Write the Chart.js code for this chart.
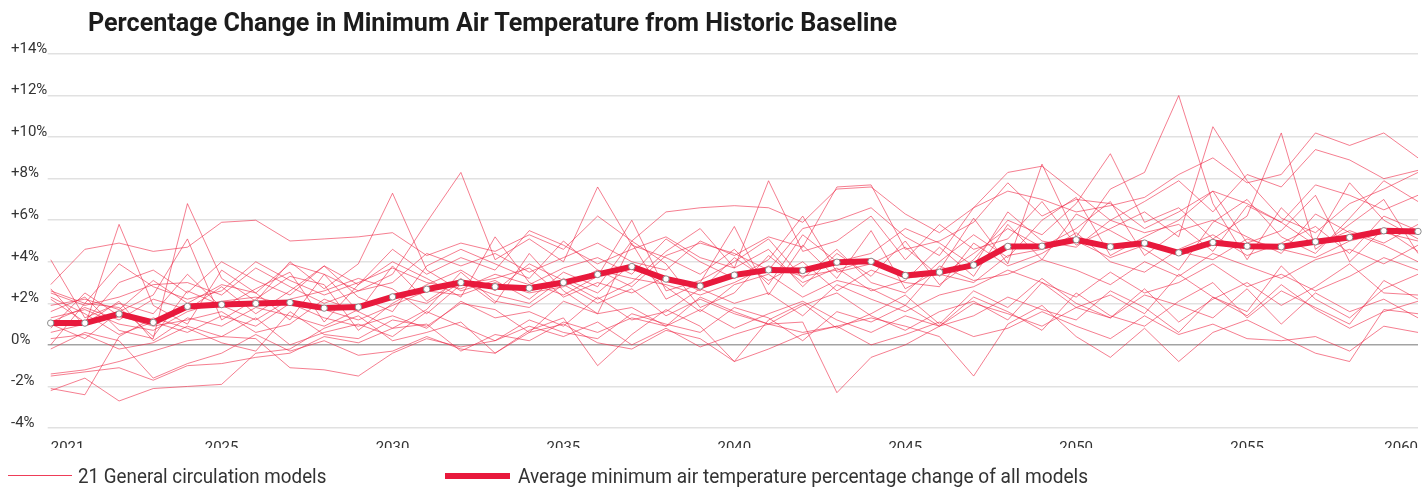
<!DOCTYPE html>
<html><head><meta charset="utf-8">
<script src="https://cdn.jsdelivr.net/npm/chart.js@4.4.1/dist/chart.umd.min.js"></script>
<style>
html,body{margin:0;padding:0;background:#fff;width:1423px;height:488px;overflow:hidden;}
#wrap{position:relative;width:1423px;height:488px;}
#c{position:absolute;left:0;top:0;}
.t{position:absolute;white-space:nowrap;transform-origin:0 50%;font-family:"Liberation Sans Narrow","Roboto",sans-serif;color:#222;}
#title{left:88px;top:3px;font-size:26px;font-weight:bold;line-height:38px;color:#1c1c1c;}
.lg{font-size:20px;line-height:24px;top:464px;color:#333;}
.sw{position:absolute;}
</style></head>
<body><div id="wrap">
<canvas id="c" width="1423" height="488"></canvas>
<div id="title" class="t" data-w="809">Percentage Change in Minimum Air Temperature from Historic Baseline</div>
<div class="sw" style="left:8px;top:475px;width:64px;height:1px;background:rgba(236,40,70,0.9);"></div>
<div class="t lg" style="left:78px" data-w="248">21 General circulation models</div>
<div class="sw" style="left:445px;top:473px;width:65px;height:6px;background:#e8193c;"></div>
<div class="t lg" style="left:518px" data-w="570">Average minimum air temperature percentage change of all models</div>
</div>
<script>
// x categories (one per model year step)
const categories = ['2020','2021','2022','2023','2024','2025','2026','2027','2028','2029','2030','2031','2032','2033','2034','2035','2036','2037','2038','2039','2040','2041','2042','2043','2044','2045','2046','2047','2048','2049','2050','2051','2052','2053','2054','2055','2056','2057','2058','2059','2060'];
const tickIndex = [0,5,10,15,20,25,30,35,40];
const tickText = ['2021','2025','2030','2035','2040','2045','2050','2055','2060'];
const yTicks = [-4,-2,0,2,4,6,8,10,12,14];

const average = [1.05,1.05,1.49,1.08,1.85,1.94,1.99,2.04,1.77,1.82,2.31,2.68,3.0,2.80,2.73,3.0,3.39,3.77,3.17,2.83,3.36,3.61,3.58,3.98,4.02,3.34,3.50,3.84,4.74,4.75,5.06,4.72,4.90,4.43,4.93,4.75,4.72,4.96,5.17,5.49,5.46];

const model01 = [2.7,0.9,5.8,1.9,1.0,3.6,2.5,1.2,3.4,1.6,3.8,2.1,3.2,2.0,4.4,2.6,1.5,4.9,2.2,3.0,5.7,2.4,4.8,3.2,5.5,2.7,3.6,6.1,3.9,8.7,5.2,7.5,8.3,12.0,6.8,4.1,6.6,5.0,7.8,6.0,5.1];
const model02 = [2.9,4.6,4.9,4.5,4.7,5.9,6.0,5.0,5.1,5.2,5.4,4.3,4.9,4.5,5.3,4.6,6.2,5.0,6.4,6.6,6.7,6.6,5.9,7.5,7.6,6.3,5.4,6.6,7.4,7.0,6.4,6.7,7.1,8.2,9.0,7.8,8.2,10.2,9.6,10.2,9.0];
const model03 = [1.6,2.3,0.7,0.3,6.8,3.2,2.1,4.0,2.7,3.9,7.3,3.6,2.6,3.1,2.2,3.5,2.8,5.0,3.9,1.8,2.5,4.3,3.0,3.7,2.6,3.1,4.7,3.3,5.8,4.1,6.3,5.5,4.6,3.6,5.9,7.0,5.2,4.4,6.1,7.9,6.9];
const model04 = [2.5,1.9,2.3,2.9,3.0,2.4,3.7,2.8,2.0,2.6,3.4,5.9,8.3,4.1,5.1,4.0,7.6,4.8,4.2,3.4,4.6,2.9,5.3,4.0,4.4,5.6,4.9,3.8,6.4,5.0,4.7,6.0,5.4,5.8,4.5,6.7,5.9,4.8,5.5,4.9,5.8];
const model05 = [-2.2,-1.6,-2.7,-2.1,-2.0,-1.9,-0.4,-0.2,0.8,1.4,0.2,0.6,1.1,-0.4,0.7,1.3,-1.0,0.5,1.7,0.9,-0.8,1.2,2.0,0.8,1.5,2.4,1.0,2.6,1.8,3.2,2.0,1.3,2.7,1.1,2.2,3.0,1.9,2.8,3.9,2.5,2.4];
const model06 = [-2.1,-2.4,0.4,1.3,0.8,0.1,-0.3,1.6,0.5,0.3,1.2,0.9,2.0,1.7,0.6,2.1,1.5,1.8,0.9,2.3,1.6,1.0,1.9,2.5,1.4,0.7,1.6,2.1,1.2,3.0,1.8,2.4,1.5,3.4,2.3,1.6,3.8,2.2,1.3,2.7,3.4];
const model07 = [-1.4,-1.2,-0.8,-0.3,0.2,0.4,0.3,-1.1,-1.2,-1.5,-0.4,0.3,-0.1,0.2,0.9,0.4,1.1,0.0,0.8,-0.1,0.5,1.0,0.6,0.9,1.3,0.9,0.4,-1.5,1.0,1.9,0.4,-0.6,0.8,-0.8,0.6,1.2,0.4,-0.4,-0.8,1.7,1.5];
const model08 = [4.1,1.3,2.0,1.5,3.4,1.8,2.7,3.5,1.1,2.9,4.0,3.2,2.3,5.2,3.0,2.4,3.3,6.0,2.6,3.1,4.0,5.1,3.2,4.6,3.0,2.5,4.0,5.3,4.2,6.0,7.1,4.3,5.2,6.0,7.4,4.9,5.5,7.2,4.0,5.6,4.5];
const model09 = [1.3,1.7,1.0,0.7,1.6,2.1,2.3,1.9,1.7,1.2,1.9,2.6,2.4,3.0,2.5,2.8,3.6,3.2,2.9,2.4,3.0,3.8,3.3,3.6,4.1,3.2,3.4,3.0,4.3,4.6,5.0,4.2,4.8,4.5,4.1,5.1,4.6,4.2,5.0,5.4,5.0];
const model10 = [0.8,2.5,1.4,0.9,1.2,1.6,0.6,1.0,2.2,1.6,0.8,1.7,3.5,2.1,1.8,2.9,2.0,2.7,1.4,2.2,1.5,1.0,1.1,-2.3,-0.6,0.0,0.9,2.3,1.6,0.7,2.5,1.4,0.9,2.1,3.0,1.3,2.6,1.8,1.0,3.1,2.2];
const model11 = [2.2,1.1,3.0,3.6,2.5,4.0,3.1,2.4,3.8,2.9,4.6,3.4,4.2,3.6,5.5,4.8,3.9,4.6,5.2,4.2,3.7,7.9,4.5,5.0,6.2,4.1,5.8,4.6,5.1,6.9,4.8,5.6,6.4,5.2,10.5,7.9,6.1,5.4,6.8,7.5,8.3];
const model12 = [1.9,2.2,1.7,3.1,2.0,2.9,2.5,3.9,3.4,2.6,3.0,4.4,3.8,4.4,3.5,4.2,4.9,4.0,3.6,5.0,4.3,5.2,4.7,7.6,7.7,4.6,5.0,5.9,7.8,6.2,7.0,6.8,5.6,6.4,7.4,6.8,5.9,7.7,7.2,6.5,7.2];
const model13 = [0.3,0.5,-0.2,0.1,0.9,0.4,1.3,0.0,0.6,1.0,0.4,1.6,0.9,0.2,1.2,0.6,0.3,1.5,1.0,0.6,1.8,1.3,0.2,1.6,1.1,1.9,0.9,1.4,2.3,1.7,1.2,2.6,1.8,0.6,2.3,1.4,2.9,1.7,0.8,1.6,2.1];
const model14 = [-0.2,0.6,0.2,-1.6,-0.9,-0.4,0.5,-0.3,0.2,-0.5,-0.3,0.4,-0.2,-0.4,0.6,1.0,0.1,-0.2,0.7,0.3,-0.8,-0.2,0.5,0.9,0.0,0.5,1.1,0.4,0.8,1.6,0.9,0.3,1.4,0.5,1.0,0.3,0.2,0.4,-0.3,0.9,0.6];
const model15 = [2.6,2.0,3.9,2.8,2.2,2.6,4.0,3.1,2.4,3.0,3.7,3.0,2.7,3.4,2.9,3.7,4.2,3.4,5.1,4.0,3.2,4.1,6.2,3.5,3.9,4.7,3.3,4.4,5.6,4.7,5.6,6.9,4.3,5.5,6.0,5.2,4.4,6.3,5.4,4.8,4.0];
const model16 = [0.6,1.0,2.1,0.2,1.3,0.9,1.8,1.4,0.9,1.7,2.4,2.0,3.0,2.4,2.0,3.2,2.5,3.9,2.8,1.6,2.9,3.4,2.3,3.1,2.7,1.9,3.8,3.1,3.4,4.1,3.6,2.9,4.0,3.3,4.4,3.8,3.2,4.1,4.6,3.9,4.8];
const model17 = [1.0,0.3,1.6,2.4,5.1,1.2,2.2,3.3,2.9,0.7,2.0,2.9,3.6,2.6,3.9,3.1,2.2,3.0,4.5,5.6,3.7,4.6,2.8,4.4,3.3,5.0,2.9,4.1,6.0,5.3,6.8,9.2,5.9,6.6,5.1,6.2,10.2,4.6,5.8,7.0,4.4];
const model18 = [-1.5,-1.3,-1.1,-1.7,-1.0,-0.9,-0.6,-0.4,0.4,0.1,0.8,1.0,-0.3,0.5,0.2,1.1,0.6,1.3,0.9,1.7,0.8,1.5,2.1,1.2,0.6,1.4,0.9,2.0,1.5,0.9,1.8,1.3,2.4,1.9,1.3,2.7,1.0,2.5,1.6,2.2,1.3];
const model19 = [1.1,1.8,1.2,2.2,1.7,2.8,1.5,2.6,3.8,2.3,1.6,3.8,4.6,3.9,3.2,5.0,3.6,2.8,4.3,4.9,4.4,3.6,5.6,6.0,6.6,5.2,4.3,6.6,8.3,8.6,7.3,6.0,6.9,7.9,6.4,8.2,7.6,9.4,8.9,8.0,8.4];
const model20 = [2.3,1.5,0.5,1.1,0.6,1.4,0.9,2.0,1.3,0.9,1.4,0.8,2.1,1.3,1.6,0.9,2.3,1.2,1.6,2.7,2.0,2.5,1.4,2.9,2.2,1.6,2.4,2.8,3.6,3.0,2.3,3.5,2.5,3.0,3.9,2.8,3.4,2.6,3.3,4.2,3.6];
const model21 = [0.0,2.0,1.8,0.4,2.6,1.9,1.2,2.2,2.6,3.2,2.7,1.5,2.9,3.2,3.7,2.3,3.0,2.5,3.3,2.6,4.2,3.1,4.0,2.6,3.6,3.0,2.8,4.9,3.8,4.4,5.4,4.0,3.5,4.6,5.3,4.3,4.9,5.7,4.4,6.2,5.5];

const models = [model01,model02,model03,model04,model05,model06,model07,model08,model09,model10,model11,model12,model13,model14,model15,model16,model17,model18,model19,model20,model21];

const FONT = '"Liberation Sans Narrow", "Roboto", sans-serif';

const datasets = [{
  label: 'Average minimum air temperature percentage change of all models',
  data: average,
  borderColor: '#e8193c',
  borderWidth: 6,
  pointRadius: 3.2,
  pointBackgroundColor: '#ffffff',
  pointBorderColor: '#8a8a8a',
  pointBorderWidth: 1,
  tension: 0,
  borderJoinStyle: 'round'
}];
models.forEach((m, i) => datasets.push({
  label: 'Model ' + (i + 1),
  data: m,
  borderColor: 'rgba(238, 40, 70, 0.6)',
  borderWidth: 1,
  pointRadius: 0,
  tension: 0
}));

new Chart(document.getElementById('c'), {
  type: 'line',
  data: { labels: categories, datasets },
  options: {
    responsive: false,
    animation: false,
    layout: { padding: { left: 11, right: 1.5, top: 54, bottom: 40 } },
    plugins: { legend: { display: false }, title: { display: false }, tooltip: { enabled: false } },
    scales: {
      x: {
        grid: { display: true, drawOnChartArea: false, drawTicks: true, tickLength: 11, color: 'rgba(0,0,0,0)' },
        border: { display: false },
        afterFit: s => { s.height = 20; },
        afterBuildTicks: s => { s.ticks = tickIndex.map(v => ({ value: v })); },
        ticks: {
          autoSkip: false, maxRotation: 0, align: 'inner', padding: 0,
          color: '#333', font: { family: FONT, size: 15 },
          callback: (v) => { const k = tickIndex.indexOf(v); return k >= 0 ? tickText[k] : ''; }
        }
      },
      y: {
        min: -4, max: 14,
        afterFit: s => { s.width = 39.7; },
        afterBuildTicks: s => { s.ticks = yTicks.map(v => ({ value: v })); },
        grid: {
          color: c => (c.tick && c.tick.value === 0) ? '#a3a3a3' : '#e1e1e1',
          lineWidth: 1.5, tickLength: 3, drawTicks: true
        },
        border: { display: false },
        ticks: {
          crossAlign: 'far', labelOffset: -5, padding: 0,
          color: '#333', font: { family: FONT, size: 15 },
          callback: v => (v > 0 ? '+' + v : '' + v) + '%'
        }
      }
    }
  }
});

document.querySelectorAll('[data-w]').forEach(el => {
  const w = el.offsetWidth; const target = +el.dataset.w;
  if (w > 0) el.style.transform = 'scaleX(' + (target / w) + ')';
});
</script>
</body></html>
